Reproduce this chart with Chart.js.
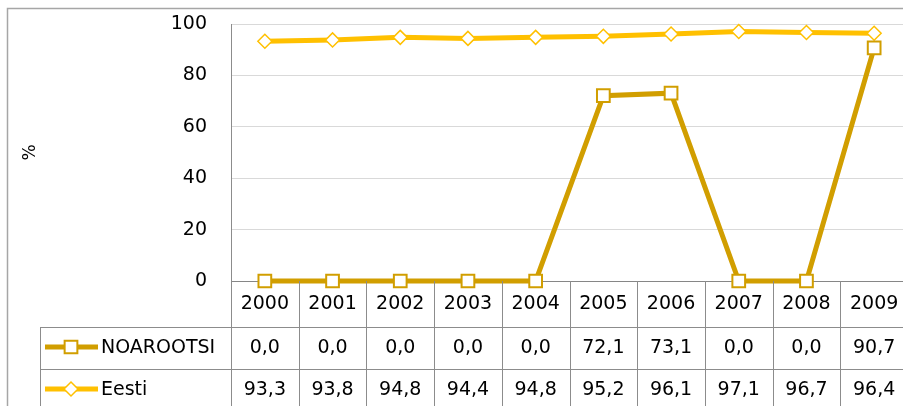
<!DOCTYPE html>
<html>
<head>
<meta charset="utf-8">
<style>
  html, body { margin: 0; padding: 0; background: #fff; overflow: hidden; }
  #wrap { width: 910px; height: 406px; }
  canvas { display: block; }
</style>
<script src="https://cdn.jsdelivr.net/npm/chart.js@4/dist/chart.umd.min.js"></script>
</head>
<body>
<div id="wrap"><canvas id="chart" width="910" height="406"></canvas></div>
<script>
const years = ['2000', '2001', '2002', '2003', '2004', '2005', '2006', '2007', '2008', '2009'];
const seriesNames = ['NOAROOTSI', 'Eesti'];
const noarootsi = [0, 0, 0, 0, 0, 72.1, 73.1, 0, 0, 90.7];
const eesti = [93.3, 93.8, 94.8, 94.4, 94.8, 95.2, 96.1, 97.1, 96.7, 96.4];
const yTicks = [0, 20, 40, 60, 80, 100];

document.addEventListener('DOMContentLoaded', function () {
    const FONT = '"DejaVu Sans", Verdana, sans-serif';
    const darkGold = '#D19E00';
    const gold = '#FFC000';
    const lineGray = '#8C8C8C';

    // frame around the whole chart
    const framePlugin = {
        id: 'frame',
        beforeDraw(chart) {
            const ctx = chart.ctx;
            ctx.save();
            ctx.strokeStyle = '#A6A6A6';
            ctx.lineWidth = 1.5;
            ctx.strokeRect(7.5, 8.5, 1000, 1000);
            ctx.restore();
        }
    };

    // data table below the plot, columns follow the x scale
    const tablePlugin = {
        id: 'dataTable',
        afterDraw(chart) {
            const ctx = chart.ctx;
            const xs = chart.scales.x;
            const area = chart.chartArea;
            const cw = xs.getPixelForValue(1) - xs.getPixelForValue(0);
            const top = Math.round(area.bottom);
            const row1 = top + 46;
            const row2 = row1 + 42;
            const legendLeft = 40;
            const H = chart.height;

            ctx.save();
            ctx.strokeStyle = lineGray;
            ctx.lineWidth = 1;
            ctx.beginPath();
            // column separators
            for (let i = 0; i <= years.length; i++) {
                const x = Math.round(xs.getPixelForValue(i) - cw / 2) + 0.5;
                ctx.moveTo(x, i === 0 ? area.top : top);
                ctx.lineTo(x, H);
            }
            // row lines
            [row1, row2].forEach(y => {
                ctx.moveTo(legendLeft, y + 0.5);
                ctx.lineTo(chart.width, y + 0.5);
            });
            ctx.moveTo(legendLeft + 0.5, row1);
            ctx.lineTo(legendLeft + 0.5, H);
            ctx.stroke();

            ctx.fillStyle = '#000';
            ctx.font = '19px ' + FONT;
            ctx.textAlign = 'center';
            ctx.textBaseline = 'middle';
            const fmt = v => v.toFixed(1).replace('.', ',');
            years.forEach((yr, i) => {
                const x = xs.getPixelForValue(i);
                ctx.fillText(yr, x, top + 23);
                ctx.fillText(fmt(noarootsi[i]), x, row1 + 21);
                ctx.fillText(fmt(eesti[i]), x, row2 + 21);
            });

            // legend keys
            const ds = chart.data.datasets;
            [row1 + 20, row2 + 20].forEach((y, k) => {
                const d = ds[k];
                ctx.strokeStyle = d.borderColor;
                ctx.lineWidth = 5;
                ctx.beginPath();
                ctx.moveTo(45, y);
                ctx.lineTo(98, y);
                ctx.stroke();
                ctx.fillStyle = '#fff';
                ctx.strokeStyle = d.pointBorderColor;
                ctx.lineWidth = d.pointBorderWidth;
                ctx.beginPath();
                if (d.pointStyle === 'rect') {
                    const s = d.pointRadius * Math.SQRT1_2;
                    ctx.rect(71 - s, y - s, 2 * s, 2 * s);
                } else {
                    const r = d.pointRadius;
                    ctx.moveTo(71 - r, y);
                    ctx.lineTo(71, y - r);
                    ctx.lineTo(71 + r, y);
                    ctx.lineTo(71, y + r);
                    ctx.closePath();
                }
                ctx.fill();
                ctx.stroke();
                ctx.fillStyle = '#000';
                ctx.textAlign = 'left';
                ctx.font = '19px ' + FONT;
                ctx.fillText(seriesNames[k], 101, y + 1);
            });
            ctx.restore();
        }
    };

    const ctx = document.getElementById('chart').getContext('2d');
    new Chart(ctx, {
        type: 'line',
        data: {
            labels: years,
            datasets: [{
                label: seriesNames[0],
                data: noarootsi,
                borderColor: darkGold,
                borderWidth: 5,
                pointStyle: 'rect',
                pointRadius: 9,
                pointBackgroundColor: '#fff',
                pointBorderColor: darkGold,
                pointBorderWidth: 2,
                tension: 0,
                clip: false
            }, {
                label: seriesNames[1],
                data: eesti,
                borderColor: gold,
                borderWidth: 5,
                pointStyle: 'rectRot',
                pointRadius: 7,
                pointBackgroundColor: '#fff',
                pointBorderColor: gold,
                pointBorderWidth: 1.5,
                tension: 0,
                clip: false
            }]
        },
        options: {
            responsive: false,
            animation: false,
            layout: { autoPadding: false, padding: { left: 0, top: 24, right: 2, bottom: 125 } },
            plugins: {
                legend: { display: false },
                tooltip: { enabled: false }
            },
            scales: {
                x: {
                    display: false,
                    offset: true
                },
                y: {
                    min: 0,
                    max: 100,
                    afterFit(scale) {
                        scale.width = 231;
                        scale.paddingTop = 0;
                        scale.paddingBottom = 0;
                    },
                    afterBuildTicks(scale) { scale.ticks = yTicks.map(v => ({ value: v })); },
                    border: { color: '#868686', width: 1 },
                    grid: {
                        drawTicks: false,
                        color: c => (c.tick && c.tick.value === 0 ? '#868686' : '#D9D9D9'),
                        lineWidth: 1
                    },
                    ticks: {
                        padding: 24,
                        color: '#000',
                        font: { family: FONT, size: 19 }
                    },
                    title: {
                        display: true,
                        text: '%',
                        color: '#000',
                        font: { family: FONT, size: 17 },
                        padding: { top: 20, bottom: 0 }
                    }
                }
            }
        },
        plugins: [framePlugin, tablePlugin]
    });
});
</script>
</body>
</html>
